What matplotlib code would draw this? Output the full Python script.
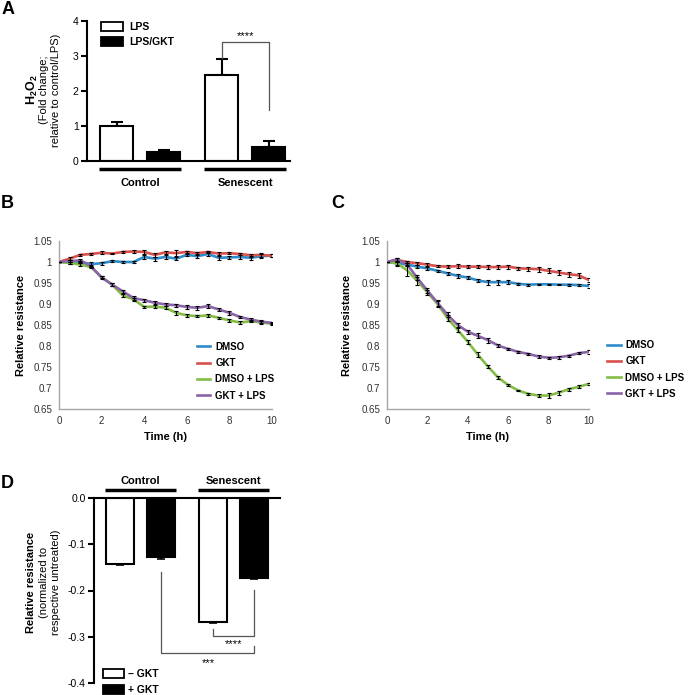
import numpy as np
import matplotlib
matplotlib.use('Agg')
import matplotlib.pyplot as plt
import matplotlib.transforms as mtrans
from matplotlib.patches import Patch
from matplotlib.lines import Line2D
from matplotlib.ticker import FormatStrFormatter

plt.rcParams['font.family'] = 'Liberation Sans'
plt.rcParams['axes.unicode_minus'] = False
plt.rcParams['mathtext.fontset'] = 'custom'
plt.rcParams['mathtext.rm'] = 'Liberation Sans'
plt.rcParams['mathtext.bf'] = 'Liberation Sans:bold'

# ---- panel A data
a_groups = ['Control', 'Senescent']
a_lps = [1.0, 2.45]
a_lps_err = [0.12, 0.45]
a_gkt = [0.27, 0.40]
a_gkt_err = [0.05, 0.16]

# ---- panels B/C data
time_h = [0, 0.5, 1, 1.5, 2, 2.5, 3, 3.5, 4, 4.5, 5, 5.5, 6, 6.5, 7, 7.5, 8, 8.5, 9, 9.5, 10]
series_names = ['DMSO', 'GKT', 'DMSO + LPS', 'GKT + LPS']
series_colors = ['#2f8ccb', '#d9504c', '#84bd46', '#8a63a8']

b_dmso = [1.0, 1.0, 1.0, 0.995, 0.997, 1.002, 1.0, 1.0, 1.012, 1.008, 1.012, 1.008, 1.017,
          1.014, 1.019, 1.01, 1.011, 1.012, 1.01, 1.014, 1.015]
b_gkt = [1.0, 1.008, 1.017, 1.019, 1.022, 1.02, 1.024, 1.025, 1.024, 1.017, 1.023, 1.021, 1.024,
         1.021, 1.024, 1.02, 1.021, 1.019, 1.016, 1.017, 1.015]
b_dmso_lps = [1.0, 0.998, 0.994, 0.988, 0.964, 0.946, 0.92, 0.911, 0.893, 0.894, 0.891, 0.879,
              0.873, 0.871, 0.873, 0.867, 0.861, 0.856, 0.859, 0.856, 0.853]
b_gkt_lps = [1.0, 1.002, 1.004, 0.99, 0.963, 0.946, 0.93, 0.914, 0.909, 0.903, 0.899, 0.897,
             0.893, 0.891, 0.895, 0.887, 0.879, 0.869, 0.863, 0.858, 0.855]
b_err_dmso = [0, 0.004, 0.003, 0.006, 0.003, 0.003, 0.002, 0.003, 0.004, 0.005, 0.005, 0.003,
              0.003, 0.004, 0.005, 0.005, 0.004, 0.004, 0.005, 0.005, 0.003]
b_err_gkt = [0, 0.004, 0.003, 0.003, 0.004, 0.002, 0.003, 0.003, 0.004, 0.004, 0.004, 0.007,
             0.003, 0.004, 0.003, 0.003, 0.003, 0.003, 0.004, 0.005, 0.003]
b_err_dmso_lps = [0, 0.003, 0.003, 0.003, 0.003, 0.003, 0.004, 0.003, 0.003, 0.004, 0.004, 0.005,
                  0.003, 0.003, 0.003, 0.003, 0.003, 0.003, 0.003, 0.003, 0.002]
b_err_gkt_lps = [0, 0.003, 0.003, 0.003, 0.003, 0.003, 0.003, 0.004, 0.004, 0.004, 0.004, 0.004,
                 0.004, 0.005, 0.005, 0.004, 0.004, 0.003, 0.003, 0.004, 0.002]

c_dmso = [1.0, 0.997, 0.994, 0.989, 0.985, 0.979, 0.973, 0.967, 0.963, 0.956, 0.952, 0.952,
          0.952, 0.948, 0.946, 0.947, 0.947, 0.946, 0.946, 0.945, 0.943]
c_gkt = [1.0, 1.005, 1.0, 0.997, 0.994, 0.99, 0.989, 0.99, 0.989, 0.989, 0.988, 0.988, 0.989,
         0.985, 0.984, 0.983, 0.979, 0.975, 0.971, 0.968, 0.957]
c_dmso_lps = [1.0, 0.997, 0.98, 0.955, 0.928, 0.9, 0.866, 0.838, 0.81, 0.779, 0.751, 0.725,
              0.707, 0.694, 0.686, 0.682, 0.682, 0.689, 0.697, 0.703, 0.71]
c_gkt_lps = [1.0, 1.006, 0.994, 0.962, 0.932, 0.903, 0.874, 0.85, 0.834, 0.824, 0.814, 0.801,
             0.793, 0.786, 0.781, 0.775, 0.772, 0.773, 0.777, 0.783, 0.786]
c_err_dmso = [0, 0.003, 0.003, 0.004, 0.004, 0.003, 0.004, 0.004, 0.004, 0.004, 0.006, 0.006,
              0.005, 0.003, 0.002, 0.001, 0.001, 0.001, 0.002, 0.003, 0.004]
c_err_gkt = [0, 0.004, 0.003, 0.003, 0.003, 0.003, 0.003, 0.005, 0.004, 0.004, 0.005, 0.005,
             0.005, 0.004, 0.005, 0.006, 0.006, 0.005, 0.006, 0.006, 0.004]
c_err_dmso_lps = [0, 0.006, 0.013, 0.01, 0.006, 0.007, 0.007, 0.005, 0.005, 0.006, 0.004, 0.004,
                  0.003, 0.002, 0.002, 0.003, 0.006, 0.005, 0.004, 0.003, 0.003]
c_err_gkt_lps = [0, 0.004, 0.004, 0.006, 0.006, 0.007, 0.006, 0.005, 0.005, 0.006, 0.006, 0.003,
                 0.003, 0.003, 0.003, 0.003, 0.002, 0.003, 0.002, 0.003, 0.004]

res_ticks = [0.65, 0.7, 0.75, 0.8, 0.85, 0.9, 0.95, 1.0, 1.05]
res_tick_labels = ['0.65', '0.7', '0.75', '0.8', '0.85', '0.9', '0.95', '1', '1.05']

# ---- panel D data
d_groups = ['Control', 'Senescent']
d_minus = [-0.143, -0.269]
d_minus_err = [0.001, 0.002]
d_plus = [-0.127, -0.172]
d_plus_err = [0.005, 0.003]

W, H = 688, 695
fig = plt.figure(figsize=(W / 100, H / 100), dpi=100)


def px_axes(left, top, right, bottom):
    return fig.add_axes([left / W, 1 - bottom / H, (right - left) / W, (bottom - top) / H])


def group_bars(ax, centers, names, y_line, y_text, half=0.87):
    tr = mtrans.blended_transform_factory(ax.transData, ax.transAxes)
    for c, name in zip(centers, names):
        ax.plot([c - half, c + half], [y_line, y_line], color='black', lw=2.5,
                transform=tr, clip_on=False, solid_capstyle='butt')
        ax.text(c, y_text, name, transform=tr, ha='center', va='center',
                fontsize=8, fontweight='bold')


# ================= A
axA = px_axes(87, 21, 290, 161)
grp_a = np.array([1.13, 3.37])
off, bw = 0.5, 0.7
axA.bar(grp_a - off, a_lps, bw, color='white', edgecolor='black', lw=1.5, zorder=2)
axA.bar(grp_a + off, a_gkt, bw, color='black', edgecolor='black', lw=1.5, zorder=2)
axA.errorbar(grp_a - off, a_lps, yerr=[np.zeros(2), a_lps_err], fmt='none', ecolor='black',
             elinewidth=1.5, capsize=4.5, capthick=1.5, zorder=1)
axA.errorbar(grp_a + off, a_gkt, yerr=[np.zeros(2), a_gkt_err], fmt='none', ecolor='black',
             elinewidth=1.5, capsize=4.5, capthick=1.5, zorder=1)
axA.set_xlim(0, 4.32)
axA.set_ylim(0, 4)
axA.set_yticks([0, 1, 2, 3, 4])
axA.set_xticks([])
for s in ['top', 'right']:
    axA.spines[s].set_visible(False)
for s in ['left', 'bottom']:
    axA.spines[s].set_linewidth(1.5)
axA.tick_params(axis='y', direction='out', length=4, width=1.5, labelsize=7.5, pad=2)
x1, x2 = grp_a[1] - off, grp_a[1] + off
axA.plot([x1, x1, x2, x2], [2.95, 3.4, 3.4, 1.45], color='#555555', lw=0.9)
axA.text(grp_a[1], 3.58, '****', ha='center', va='center', fontsize=8)
group_bars(axA, grp_a, a_groups, -0.057, -0.157)
axA.legend(handles=[Patch(facecolor='white', edgecolor='black', lw=1.3, label='LPS'),
                    Patch(facecolor='black', edgecolor='black', lw=1.3, label='LPS/GKT')],
           loc='upper left', bbox_to_anchor=(0.044, 1.03), frameon=False, borderpad=0,
           handlelength=2.1, handleheight=0.95, handletextpad=0.6, labelspacing=0.45,
           prop={'weight': 'bold', 'size': 7.5})
fig.text(32 / W, 1 - 90 / H, r'H$_\mathbf{2}$O$_\mathbf{2}$', rotation=90, ha='center',
         va='center', fontsize=9, fontweight='bold')
fig.text(50 / W, 1 - 90 / H, '(Fold change;\nrelative to control/LPS)', rotation=90,
         ha='center', va='center', fontsize=8, linespacing=1.15)
fig.text(8 / W, 1 - 10 / H, 'A', ha='center', va='center', fontsize=13, fontweight='bold')


# ================= B and C
def line_panel(ax, values, errors):
    for vals, name, col in zip(values, series_names, series_colors):
        ax.plot(time_h, vals, color=col, lw=1.9, label=name, zorder=2)
    for vals, err in zip(values, errors):
        ax.errorbar(time_h, vals, yerr=err, fmt='none', ecolor='black', elinewidth=0.8,
                    capsize=1.6, capthick=0.8, zorder=3)
    ax.set_xlim(0, 10)
    ax.set_ylim(0.65, 1.05)
    ax.set_yticks(res_ticks)
    ax.set_yticklabels(res_tick_labels)
    ax.set_xticks([0, 2, 4, 6, 8, 10])
    for s in ['top', 'right']:
        ax.spines[s].set_visible(False)
    for s in ['left', 'bottom']:
        ax.spines[s].set_color('#a6a6a6')
        ax.spines[s].set_linewidth(1)
    ax.tick_params(length=0, labelsize=7, labelcolor='#303030', pad=5)
    ax.set_xlabel('Time (h)', fontsize=8, fontweight='bold', labelpad=4)


axB = px_axes(59, 241, 272, 409)
line_panel(axB, [b_dmso, b_gkt, b_dmso_lps, b_gkt_lps],
           [b_err_dmso, b_err_gkt, b_err_dmso_lps, b_err_gkt_lps])
axC = px_axes(387, 241, 589, 409)
line_panel(axC, [c_dmso, c_gkt, c_dmso_lps, c_gkt_lps],
           [c_err_dmso, c_err_gkt, c_err_dmso_lps, c_err_gkt_lps])

leg_handles = [Line2D([0], [0], color=c, lw=1.9, label=n) for n, c in zip(series_names, series_colors)]
for ax, anchor in [(axB, (0.624, 0.43)), (axC, (1.065, 0.44))]:
    ax.legend(handles=leg_handles, loc='upper left', bbox_to_anchor=anchor, frameon=False,
              borderpad=0, handlelength=1.4, handletextpad=0.5, labelspacing=0.65,
              prop={'weight': 'bold', 'size': 7})

fig.text(21 / W, 1 - 325 / H, 'Relative resistance', rotation=90, ha='center', va='center',
         fontsize=8, fontweight='bold')
fig.text(347 / W, 1 - 325 / H, 'Relative resistance', rotation=90, ha='center', va='center',
         fontsize=8, fontweight='bold')
fig.text(7 / W, 1 - 203 / H, 'B', ha='center', va='center', fontsize=13, fontweight='bold')
fig.text(338 / W, 1 - 203 / H, 'C', ha='center', va='center', fontsize=13, fontweight='bold')

# ================= D
axD = px_axes(94, 498, 280, 683)
grp_d = np.array([1.13, 3.4])
off_d, bw_d = 0.5, 0.68
axD.bar(grp_d - off_d, d_minus, bw_d, color='white', edgecolor='black', lw=1.5, zorder=2)
axD.bar(grp_d + off_d, d_plus, bw_d, color='black', edgecolor='black', lw=1.5, zorder=2)
axD.errorbar(grp_d - off_d, d_minus, yerr=[d_minus_err, np.zeros(2)], fmt='none', ecolor='black',
             elinewidth=1.2, capsize=3, capthick=1.2, zorder=1)
axD.errorbar(grp_d + off_d, d_plus, yerr=[d_plus_err, np.zeros(2)], fmt='none', ecolor='black',
             elinewidth=1.2, capsize=3, capthick=1.2, zorder=1)
axD.set_xlim(0, 4.54)
axD.set_ylim(-0.4, 0)
axD.set_yticks([0, -0.1, -0.2, -0.3, -0.4])
axD.yaxis.set_major_formatter(FormatStrFormatter('%.1f'))
axD.set_xticks([])
for s in ['bottom', 'right']:
    axD.spines[s].set_visible(False)
for s in ['left', 'top']:
    axD.spines[s].set_linewidth(1.5)
axD.tick_params(axis='y', direction='out', length=4, width=1.5, labelsize=7.5, pad=2)

xa, xb = grp_d[1] - off_d, grp_d[1] + off_d
axD.plot([xa, xa, xb, xb], [-0.283, -0.298, -0.298, -0.198], color='#555555', lw=0.9)
axD.text(grp_d[1], -0.316, '****', ha='center', va='center', fontsize=8)
xc = grp_d[0] + off_d
axD.plot([xc, xc, xb, xb], [-0.161, -0.335, -0.335, -0.32], color='#555555', lw=0.9)
axD.text(2.78, -0.356, '***', ha='center', va='center', fontsize=8)

group_bars(axD, grp_d, d_groups, 1.043, 1.092, half=0.86)
axD.legend(handles=[Patch(facecolor='white', edgecolor='black', lw=1.3, label='\u2013 GKT'),
                    Patch(facecolor='black', edgecolor='black', lw=1.3, label='+ GKT')],
           loc='upper left', bbox_to_anchor=(0.02, 0.105), frameon=False, borderpad=0,
           handlelength=2.0, handleheight=0.95, handletextpad=0.4, labelspacing=0.55,
           prop={'weight': 'bold', 'size': 7.5})
fig.text(31 / W, 1 - 582 / H, 'Relative resistance', rotation=90, ha='center', va='center',
         fontsize=8, fontweight='bold')
fig.text(50 / W, 1 - 582 / H, '(normalized to\nrespective untreated)', rotation=90,
         ha='center', va='center', fontsize=8, linespacing=1.15)
fig.text(7 / W, 1 - 483 / H, 'D', ha='center', va='center', fontsize=13, fontweight='bold')

fig.savefig('out.png', dpi=100)
